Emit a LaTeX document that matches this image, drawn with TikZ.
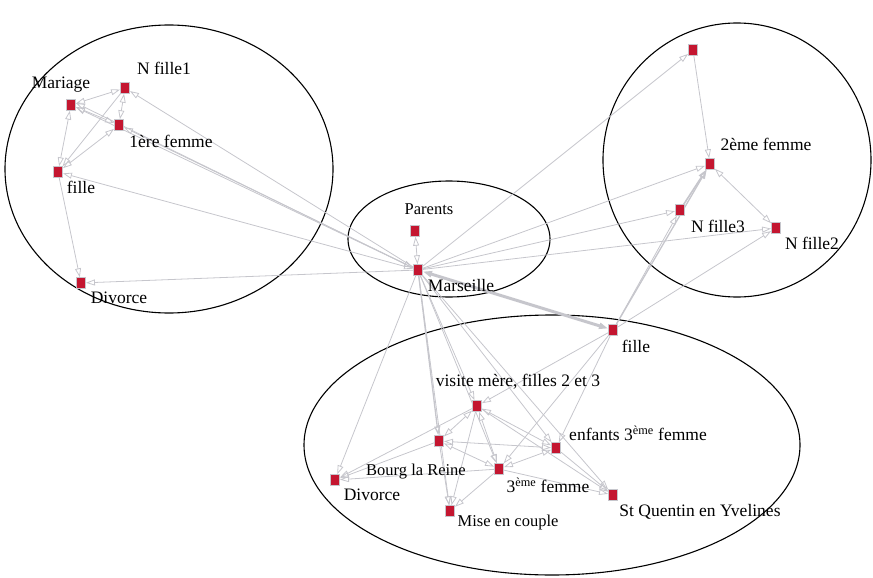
\documentclass[tikz,border=0pt]{standalone}
\usepackage{fontspec}
\setmainfont{Liberation Serif}
\usetikzlibrary{arrows.meta}
\definecolor{lieured}{RGB}{196,22,48}
\definecolor{liengris}{RGB}{198,198,204}
\tikzset{
  lieu/.style={rectangle,fill=lieured,draw=liengris,line width=.9pt,inner sep=0pt,minimum width=9pt,minimum height=10.5pt},
  lbl/.style={inner sep=0pt,font=\fontsize{17.5}{19}\selectfont},
  lblp/.style={inner sep=0pt,font=\fontsize{16.5}{18}\selectfont},
  lien/.style={draw=liengris,line width=.8pt},
  zone/.style={draw=black,line width=1.1pt}
}
\begin{document}
\begin{tikzpicture}[x=1pt,y=-1pt,line join=round,line cap=round,>={Triangle[open,length=9pt,width=6pt]}]
	\useasboundingbox (0,0) rectangle (873,578);
	% les zones
	\draw[zone] (169,169) ellipse (164 and 144);
	\draw[zone] (449,239) ellipse (101 and 58);
	\draw[zone] (737,160) ellipse (134 and 137);
	\draw[zone] (552,445) ellipse (248 and 130);
	% les lieux
	\node[lieu] (mari) at (71,105) {};
	\node[lieu] (nf1) at (125,88) {};
	\node[lieu] (fem1) at (119,125) {};
	\node[lieu] (filA) at (58,172) {};
	\node[lieu] (divA) at (81,283) {};
	\node[lieu] (par) at (415,231) {};
	\node[lieu] (mar) at (418,270) {};
	\node[lieu] (haut) at (693,50) {};
	\node[lieu] (fem2) at (710,164) {};
	\node[lieu] (nf3) at (680,210) {};
	\node[lieu] (nf2) at (776,228) {};
	\node[lieu] (filB) at (613,330) {};
	\node[lieu] (vis) at (477,406) {};
	\node[lieu] (bourg) at (439,441) {};
	\node[lieu] (enf) at (556,448) {};
	\node[lieu] (fem3) at (499,469) {};
	\node[lieu] (divB) at (335,480) {};
	\node[lieu] (mise) at (450,511) {};
	\node[lieu] (stq) at (613,495) {};
	% les liens
	\foreach \a/\b in {nf1/filA,filA/divA,mar/nf1,mar/divA,mar/haut,haut/fem2,mar/fem2,mar/nf3,mar/nf2,
		filB/nf3,filB/nf2,mar/divB,mar/mise,mar/vis,mar/fem3,mar/enf,mar/stq,filB/vis,filB/enf,filB/fem3,
		vis/divB,vis/mise,vis/stq,bourg/divB,bourg/mise,fem3/divB,fem3/mise,fem3/stq,enf/stq}
		\draw[lien,->] (\a) -- (\b);
	\foreach \a/\b in {mari/nf1,mari/fem1,fem1/nf1,filA/mari,filA/fem1,mar/mari,mar/fem1,mar/filA,
		fem2/nf2,par/mar,vis/bourg,vis/fem3,vis/enf,bourg/enf,bourg/fem3,fem3/enf}
		\draw[lien,<->] (\a) -- (\b);
	\draw[lien,->] ([yshift=2pt]mar.west) -- ([yshift=2pt]mari.east);
	\draw[lien,->,line width=1.6pt] (nf3) -- (fem2);
	\draw[lien,->,line width=1.3pt] (filB) -- (fem2);
	\draw[lien,->,line width=1.3pt] (mar) -- (bourg);
	\draw[lien,<->,line width=3pt] (mar) -- (filB);
	% redessiner les lieux par-dessus
	\foreach \n in {mari,nf1,fem1,filA,divA,par,mar,haut,fem2,nf3,nf2,filB,vis,bourg,enf,fem3,divB,mise,stq}
		\node[lieu] at (\n) {};
	% les noms
	\node[lbl] (lmari) at (61,85) {Mariage};
	\node[lbl] (lnf1) at (164,68) {N fille1};
	\node[lbl] (lfem1) at (171,141) {1ère femme};
	\node[lbl] (lfilA) at (81,187) {fille};
	\node[lbl] (ldivA) at (119,298) {Divorce};
	\node[lblp] (lpar) at (429,209) {Parents};
	\node[lbl] (lmar) at (461,286) {Marseille};
	\node[lbl] (lfem2) at (766,144) {2ème femme};
	\node[lbl] (lnf3) at (718,226) {N fille3};
	\node[lbl] (lnf2) at (812,243) {N fille2};
	\node[lbl] (lfilB) at (636,346) {fille};
	\node[lbl] (lvis) at (518,382) {visite mère, filles 2 et 3};
	\node[lbl] (lenf) at (638,433) {enfants 3\textsuperscript{ème} femme};
	\node[lblp] (lbourg) at (416,472) {Bourg la Reine};
	\node[lbl] (lfem3) at (548,485) {3\textsuperscript{ème} femme};
	\node[lbl] (ldivB) at (372,495) {Divorce};
	\node[lblp] (lmise) at (508,523) {Mise en couple};
	\node[lbl] (lstq) at (700,512) {St Quentin en\ Yvelines};
\end{tikzpicture}
\end{document}
